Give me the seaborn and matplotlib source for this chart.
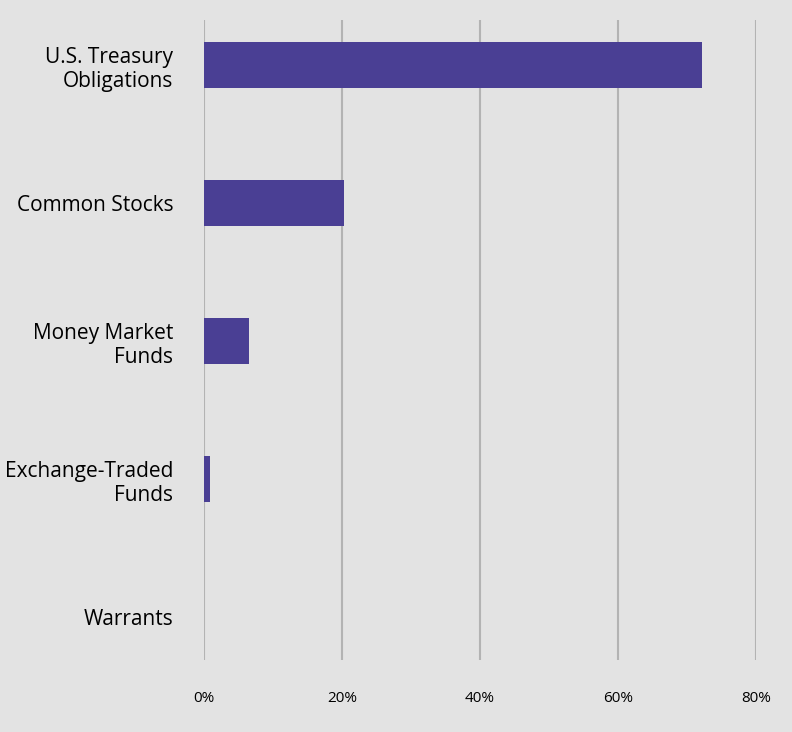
import matplotlib
matplotlib.use("Agg")
import matplotlib.pyplot as plt
import seaborn as sns
import pandas as pd

categories = ["U.S. Treasury\nObligations", "Common Stocks", "Money Market\nFunds", "Exchange-Traded\nFunds", "Warrants"]
values = [72.2, 20.3, 6.5, 0.9, 0.0]
ticks = [0, 20, 40, 60, 80]

plt.rcParams["font.family"] = "Open Sans"
df = pd.DataFrame({"cat": categories, "val": values})
fig = plt.figure(figsize=(7.92, 7.32), dpi=100, facecolor="#e3e3e3")
ax = fig.add_axes([204/792, 72/732, 552/792, 640/732])
ax.set_facecolor("#e3e3e3")
sns.barplot(data=df, x="val", y="cat", color="#4a3f94", width=0.333, saturation=1, ax=ax, orient="h")
ax.set_xlim(0, 80)
ax.set_ylim(4.31, -0.326)
ax.set_xticks(ticks)
ax.set_xticklabels([f"{t}%" for t in ticks], fontsize=11)
ax.tick_params(axis="x", length=0, pad=22)
ax.tick_params(axis="y", length=0, pad=22, labelsize=15)
for t in ticks:
    ax.axvline(t, color="#b3b3b3", lw=1.5, zorder=0)
ax.set_xlabel("")
ax.set_ylabel("")
for s in ax.spines.values():
    s.set_visible(False)
fig.savefig("out.png", dpi=100, facecolor=fig.get_facecolor())
